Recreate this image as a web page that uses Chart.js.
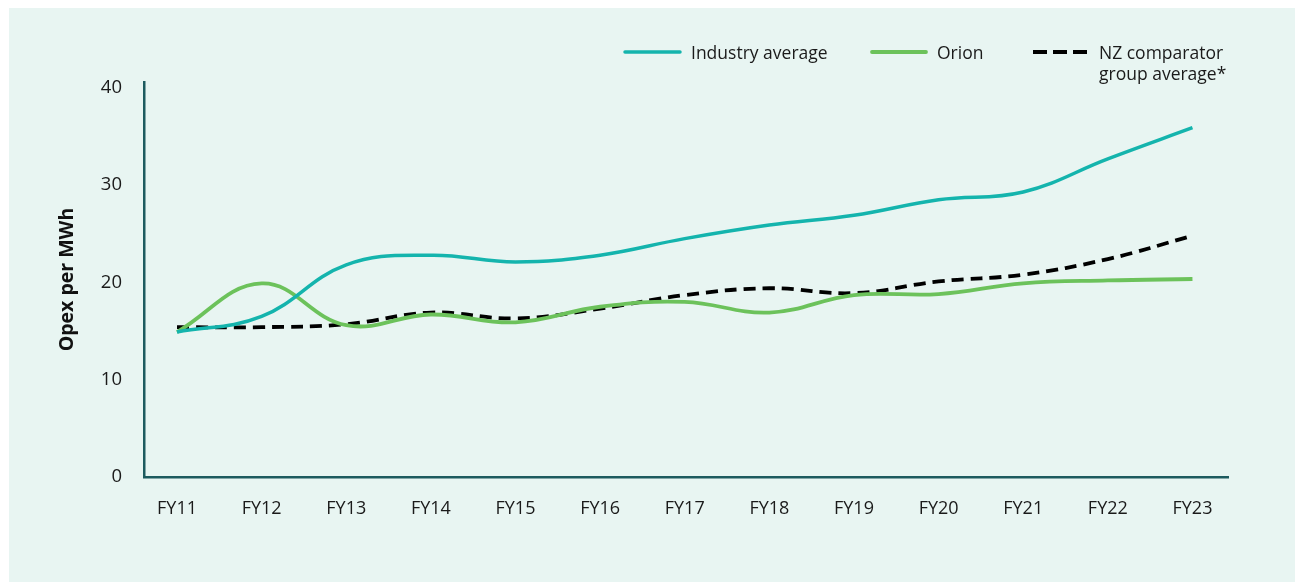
<!DOCTYPE html>
<html>
<head>
<meta charset="utf-8">
<script src="https://cdn.jsdelivr.net/npm/chart.js@4"></script>
<style>
  html, body { margin: 0; padding: 0; background: #ffffff; }
  #wrap { width: 1300px; height: 583px; }
</style>
</head>
<body>
<div id="wrap"><canvas id="c" width="1300" height="583"></canvas></div>
<script>
const categories = ['FY11','FY12','FY13','FY14','FY15','FY16','FY17','FY18','FY19','FY20','FY21','FY22','FY23'];
const industryAverage = [14.9, 16.5, 21.8, 22.8, 22.1, 22.8, 24.5, 25.9, 26.9, 28.5, 29.3, 32.7, 35.9];
const orion = [14.9, 19.9, 15.6, 16.7, 15.9, 17.5, 18.0, 16.9, 18.7, 18.8, 19.9, 20.2, 20.35];
const nzComparator = [15.4, 15.4, 15.7, 16.9, 16.3, 17.3, 18.7, 19.4, 18.9, 20.1, 20.8, 22.4, 24.8];
const yTicks = [0, 10, 20, 30, 40];
const seriesLabels = ['Industry average', 'Orion', 'NZ comparator group average*'];
const legendLines = [['Industry average'], ['Orion'], ['NZ comparator', 'group average*']];

const FONT = "'Open Sans', sans-serif";
const toXY = arr => arr.map((v, i) => ({ x: i, y: v }));

const bgPlugin = {
  id: 'bg',
  beforeDraw(chart) {
    const ctx = chart.ctx;
    ctx.save();
    ctx.fillStyle = '#ffffff';
    ctx.fillRect(0, 0, chart.width, chart.height);
    ctx.fillStyle = '#e8f5f2';
    ctx.fillRect(9, 8, 1286, 574);
    ctx.restore();
  }
};

const legendPlugin = {
  id: 'customLegend',
  afterDraw(chart) {
    const ctx = chart.ctx;
    const pos = [
      { x0: 625, x1: 680, tx: 691 },
      { x0: 872, x1: 926, tx: 937 },
      { x0: 1033, x1: 1087, tx: 1099 }
    ];
    const y = 52;
    ctx.save();
    chart.data.datasets.forEach((ds, i) => {
      const p = pos[i];
      ctx.beginPath();
      ctx.strokeStyle = ds.borderColor;
      ctx.lineWidth = ds.borderWidth;
      const dashed = ds.borderDash && ds.borderDash.length;
      ctx.lineCap = dashed ? 'butt' : 'round';
      ctx.setLineDash(dashed ? [14, 6] : []);
      ctx.moveTo(p.x0, y);
      ctx.lineTo(p.x1, y);
      ctx.stroke();
      ctx.setLineDash([]);
      ctx.fillStyle = '#1a1a1a';
      ctx.font = "17.5px " + FONT;
      ctx.textBaseline = 'middle';
      ctx.textAlign = 'left';
      legendLines[i].forEach((t, k) => ctx.fillText(t, p.tx, y + 2 + k * 21));
    });
    ctx.restore();
  }
};

new Chart(document.getElementById('c'), {
  type: 'line',
  data: {
    datasets: [
      { label: seriesLabels[0], data: toXY(industryAverage), borderColor: '#14b4ad', borderWidth: 3.5, tension: 0.4, pointRadius: 0, fill: false },
      { label: seriesLabels[1], data: toXY(orion), borderColor: '#6cc25b', borderWidth: 3.8, tension: 0.4, pointRadius: 0, fill: false },
      { label: seriesLabels[2], data: toXY(nzComparator), borderColor: '#000000', borderWidth: 3.8, borderDash: [12, 7], tension: 0.4, pointRadius: 0, fill: false }
    ]
  },
  options: {
    responsive: false,
    animation: false,
    events: [],
    layout: { padding: { left: 56, top: 82, right: 72, bottom: 0 } },
    plugins: { legend: { display: false }, tooltip: { enabled: false } },
    scales: {
      x: {
        type: 'linear',
        min: -0.39,
        max: 12.42,
        afterBuildTicks: s => { s.ticks = categories.map((_, i) => ({ value: i })); },
        afterFit: s => { s.height = 106; },
        grid: { display: false, drawTicks: false },
        border: { display: true, color: '#1d5b5f', width: 2.5 },
        ticks: {
          autoSkip: false, maxRotation: 0, padding: 21,
          color: '#1a1a1a', font: { family: FONT, size: 18 },
          callback: v => categories[v]
        }
      },
      y: {
        min: 0,
        max: 40.6,
        afterBuildTicks: s => { s.ticks = yTicks.map(v => ({ value: v })); },
        afterFit: s => { s.width = 88; },
        grid: { display: false, drawTicks: false },
        border: { display: true, color: '#1d5b5f', width: 2.5 },
        ticks: { padding: 22, color: '#1a1a1a', font: { family: FONT, size: 18.5 } },
        title: { display: true, text: 'Opex per MWh', color: '#111111', padding: 0, font: { family: FONT, size: 19.5, weight: 'bold' } }
      }
    }
  },
  plugins: [bgPlugin, legendPlugin]
});
</script>
</body>
</html>
